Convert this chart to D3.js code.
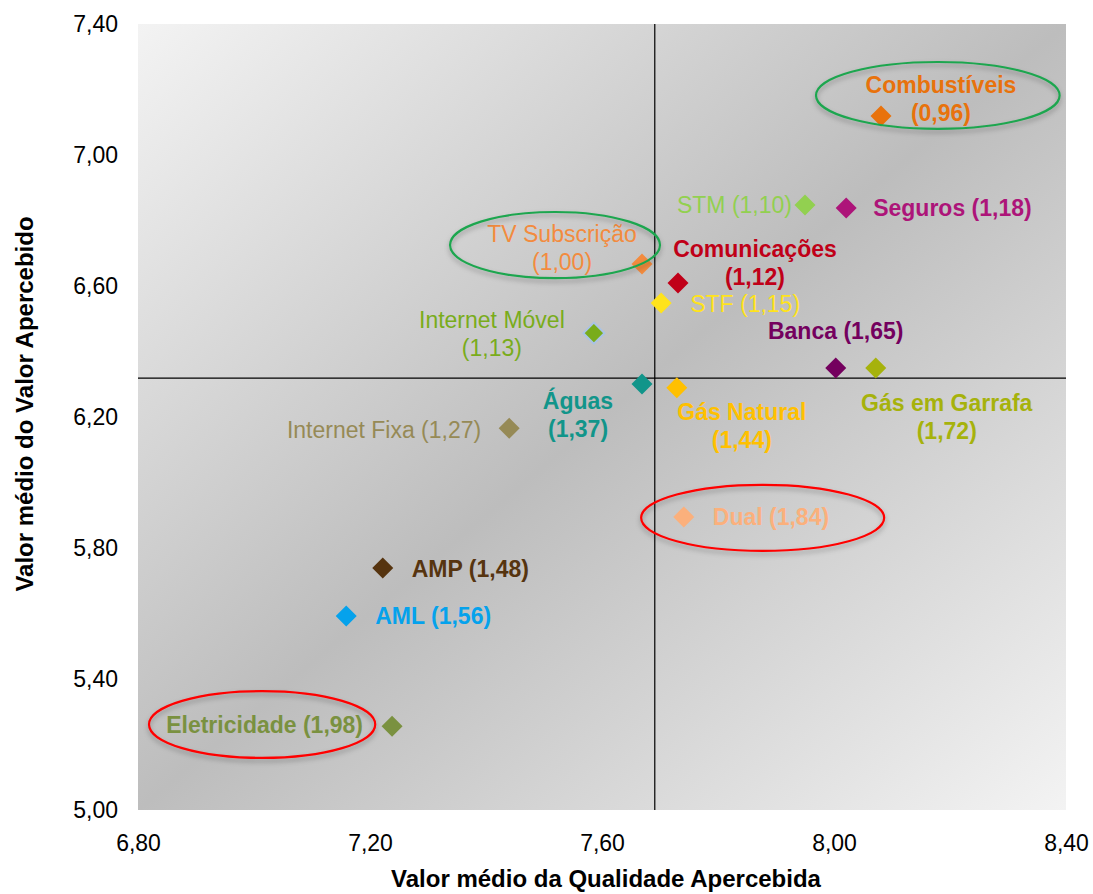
<!DOCTYPE html>
<html>
<head>
<meta charset="utf-8">
<script src="https://cdn.jsdelivr.net/npm/d3@7"></script>
<style>
  html, body { margin: 0; padding: 0; background: #ffffff; }
  svg { display: block; font-family: "Liberation Sans", Arial, sans-serif; }
</style>
</head>
<body>
<svg id="chart" width="1093" height="894"></svg>
<script>
// Sectors: perceived quality (x), perceived value (y) and the ratio shown in brackets
const sectors = ["Combustíveis", "STM", "Seguros", "TV Subscrição", "Comunicações", "STF",
  "Internet Móvel", "Banca", "Gás em Garrafa", "Águas", "Gás Natural", "Internet Fixa",
  "Dual", "AMP", "AML", "Eletricidade"];
const qualidade = [8.081, 7.950, 8.021, 7.669, 7.731, 7.702,
  7.586, 8.003, 8.072, 7.669, 7.729, 7.440,
  7.741, 7.222, 7.159, 7.238];
const valor = [7.119, 6.847, 6.838, 6.667, 6.609, 6.548,
  6.456, 6.350, 6.350, 6.301, 6.289, 6.166,
  5.895, 5.739, 5.592, 5.256];
const indice = [0.96, 1.10, 1.18, 1.00, 1.12, 1.15,
  1.13, 1.65, 1.72, 1.37, 1.44, 1.27,
  1.84, 1.48, 1.56, 1.98];

// Axis ticks and the mean reference lines
const xTicks = [6.8, 7.2, 7.6, 8.0, 8.4];
const yTicks = [5.0, 5.4, 5.8, 6.2, 6.6, 7.0, 7.4];
const mediaQualidade = 7.691;
const mediaValor = 6.319;

// Highlighted sectors (ellipse centre and radii in axis units)
const destaqueNome = ["Combustíveis", "TV Subscrição", "Dual", "Eletricidade"];
const destaqueCx = [8.179, 7.519, 7.877, 7.014];
const destaqueCy = [7.182, 6.725, 5.892, 5.261];
const destaqueRx = [0.210, 0.181, 0.2095, 0.195];
const destaqueRy = [0.102, 0.101, 0.101, 0.102];
const destaqueCor = ["#1fa64f", "#1fa64f", "#ff0000", "#ff0000"];

// Colours and label placement per sector
const cores = {
  "Combustíveis": "#e8720c", "STM": "#92d050", "Seguros": "#ad1479",
  "TV Subscrição": "#f38b3e", "Comunicações": "#c00018", "STF": "#ffe31c",
  "Internet Móvel": "#79ac1b", "Banca": "#74005e", "Gás em Garrafa": "#a6b20c",
  "Águas": "#11958a", "Gás Natural": "#ffc000", "Internet Fixa": "#968a56",
  "Dual": "#fbb07c", "AMP": "#56340f", "AML": "#05a2ec", "Eletricidade": "#7a9140"
};
// anchor, dx, dy (first baseline), split into two lines, bold
const rotulos = {
  "Combustíveis":   ["middle", 60, -23, true, true],
  "STM":            ["end", -13, 8, false, false],
  "Seguros":        ["start", 27, 8, false, true],
  "TV Subscrição":  ["middle", -80, -22, true, false],
  "Comunicações":   ["middle", 77, -26, true, true],
  "STF":            ["start", 29, 9, false, false],
  "Internet Móvel": ["middle", -102, -5, true, false],
  "Banca":          ["middle", 0, -29, false, true],
  "Gás em Garrafa": ["middle", 71, 43, true, true],
  "Águas":          ["middle", -64, 25, true, true],
  "Gás Natural":    ["middle", 65, 32, true, true],
  "Internet Fixa":  ["end", -28, 10, false, false],
  "Dual":           ["start", 29, 8, false, true],
  "AMP":            ["start", 29, 9, false, true],
  "AML":            ["start", 29, 8, false, true],
  "Eletricidade":   ["end", -29, 7, false, true]
};

const fmt = v => d3.format(".2f")(v).replace(".", ",");

const svg = d3.select("#chart");
const plot = { left: 138, top: 24, right: 1066, bottom: 810 };

const x = d3.scaleLinear().domain([6.8, 8.4]).range([plot.left, plot.right]);
const y = d3.scaleLinear().domain([5.0, 7.4]).range([plot.bottom, plot.top]);

const defs = svg.append("defs");
const grad = defs.append("linearGradient")
  .attr("id", "fundo").attr("x1", 0).attr("y1", 0).attr("x2", 1).attr("y2", 1);
grad.append("stop").attr("offset", "0%").attr("stop-color", "#f3f3f3");
grad.append("stop").attr("offset", "50%").attr("stop-color", "#bdbdbd");
grad.append("stop").attr("offset", "100%").attr("stop-color", "#f3f3f3");

const sombra = defs.append("filter").attr("id", "sombra")
  .attr("x", "-20%").attr("y", "-40%").attr("width", "140%").attr("height", "180%");
sombra.append("feDropShadow").attr("dx", 0).attr("dy", 3).attr("stdDeviation", 2.5)
  .attr("flood-color", "#000").attr("flood-opacity", 0.3);

// Plot background
svg.append("rect")
  .attr("x", plot.left).attr("y", plot.top)
  .attr("width", plot.right - plot.left).attr("height", plot.bottom - plot.top)
  .attr("fill", "url(#fundo)");

// Axes
const xAxis = svg.append("g")
  .attr("transform", `translate(0,${plot.bottom})`)
  .call(d3.axisBottom(x).tickValues(xTicks).tickSize(0).tickPadding(25).tickFormat(fmt));
const yAxis = svg.append("g")
  .attr("transform", `translate(${plot.left},0)`)
  .call(d3.axisLeft(y).tickValues(yTicks).tickSize(0).tickPadding(20).tickFormat(fmt));
[xAxis, yAxis].forEach(g => {
  g.select(".domain").remove();
  g.selectAll("text").attr("font-size", 23).attr("fill", "#000")
    .attr("font-family", "'Liberation Sans', Arial, sans-serif");
});

// Axis titles
svg.append("text")
  .attr("x", (plot.left + plot.right) / 2 + 4).attr("y", 887)
  .attr("text-anchor", "middle").attr("font-size", 24).attr("font-weight", "bold")
  .text("Valor médio da Qualidade Apercebida");
svg.append("text")
  .attr("transform", `translate(33,${(plot.top + plot.bottom) / 2 - 13}) rotate(-90)`)
  .attr("text-anchor", "middle").attr("font-size", 24).attr("font-weight", "bold")
  .text("Valor médio do Valor Apercebido");

// Mean reference lines
svg.append("line")
  .attr("x1", x(mediaQualidade)).attr("x2", x(mediaQualidade))
  .attr("y1", plot.top).attr("y2", plot.bottom)
  .attr("stroke", "#000").attr("stroke-width", 1.2);
svg.append("line")
  .attr("x1", plot.left).attr("x2", plot.right)
  .attr("y1", y(mediaValor)).attr("y2", y(mediaValor))
  .attr("stroke", "#000").attr("stroke-width", 1.2);

// Points
const dados = sectors.map((s, i) => ({ nome: s, q: qualidade[i], v: valor[i], r: indice[i] }));
const losango = "M0,-10.5L10.5,0L0,10.5L-10.5,0Z";

svg.append("g").selectAll("path").data(dados).join("path")
  .attr("d", losango)
  .attr("transform", d => `translate(${x(d.q)},${y(d.v)})`)
  .attr("fill", d => cores[d.nome])
  .attr("stroke", d => d.nome === "Internet Móvel" ? "#a9c3e6" : "none")
  .attr("stroke-width", 2);

// Labels
const rot = svg.append("g");
dados.forEach(d => {
  const [anchor, dx, dy, duasLinhas, negrito] = rotulos[d.nome];
  const t = rot.append("text")
    .attr("x", x(d.q) + dx).attr("y", y(d.v) + dy)
    .attr("text-anchor", anchor)
    .attr("font-size", 23)
    .attr("font-weight", negrito ? "bold" : "normal")
    .attr("fill", cores[d.nome]);
  if (duasLinhas) {
    t.append("tspan").attr("x", x(d.q) + dx).text(d.nome);
    t.append("tspan").attr("x", x(d.q) + dx).attr("dy", 28).text(`(${fmt(d.r)})`);
  } else {
    t.text(`${d.nome} (${fmt(d.r)})`);
  }
});

// Highlight ellipses
svg.append("g").selectAll("ellipse").data(destaqueNome).join("ellipse")
  .attr("cx", (d, i) => x(destaqueCx[i]))
  .attr("cy", (d, i) => y(destaqueCy[i]))
  .attr("rx", (d, i) => x(destaqueCx[i] + destaqueRx[i]) - x(destaqueCx[i]))
  .attr("ry", (d, i) => y(destaqueCy[i] - destaqueRy[i]) - y(destaqueCy[i]))
  .attr("fill", "none")
  .attr("stroke", (d, i) => destaqueCor[i])
  .attr("stroke-width", 2.2)
  .attr("filter", "url(#sombra)");
</script>
</body>
</html>
